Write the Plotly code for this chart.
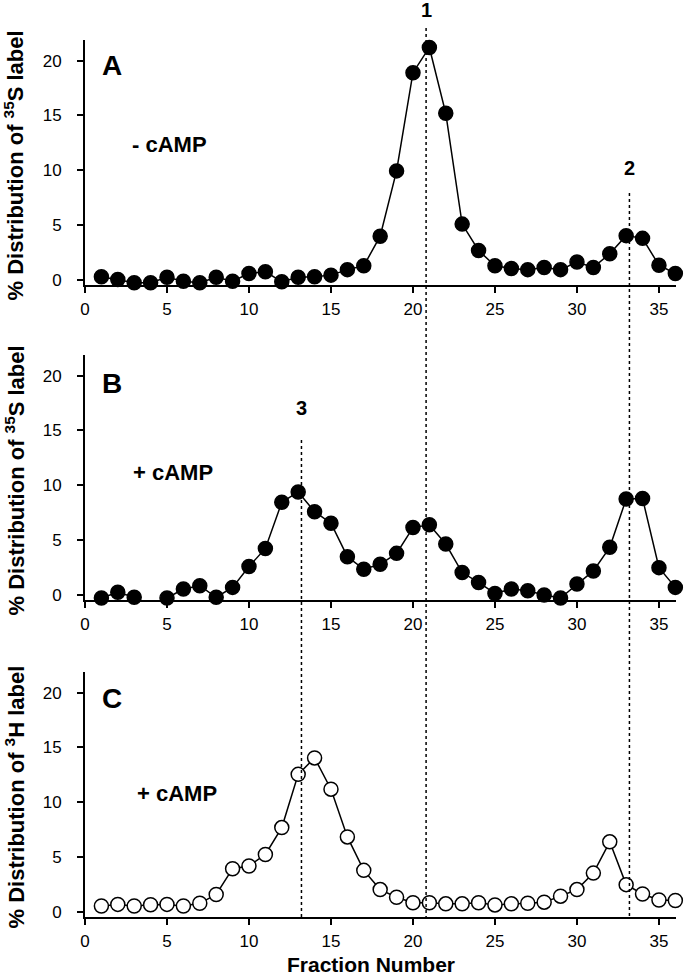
import plotly.graph_objects as go

fractions = list(range(1, 37))

# Panel A: % distribution of 35S label, - cAMP
s35_minus_camp = [0.3, 0.05, -0.25, -0.25, 0.25, -0.1, -0.25, 0.25, -0.1, 0.6,
                  0.75, -0.15, 0.25, 0.3, 0.45, 0.95, 1.3, 4.0, 9.95, 18.9,
                  21.2, 15.2, 5.1, 2.7, 1.3, 1.05, 0.95, 1.15, 0.95, 1.65,
                  1.15, 2.4, 4.05, 3.8, 1.35, 0.6]

# Panel B: % distribution of 35S label, + cAMP (fraction 4 not shown)
s35_plus_camp = [-0.27, 0.25, -0.2, None, -0.27, 0.55, 0.85, -0.2, 0.7, 2.6,
                 4.25, 8.45, 9.4, 7.6, 6.55, 3.5, 2.35, 2.8, 3.8, 6.15,
                 6.4, 4.65, 2.05, 1.15, 0.15, 0.55, 0.4, 0.0, -0.27, 1.0,
                 2.2, 4.35, 8.75, 8.8, 2.5, 0.7]

# Panel C: % distribution of 3H label, + cAMP
h3_plus_camp = [0.55, 0.7, 0.55, 0.67, 0.7, 0.55, 0.8, 1.6, 3.95, 4.2,
                5.25, 7.7, 12.55, 14.05, 11.2, 6.85, 3.8, 2.05, 1.35, 0.85,
                0.85, 0.75, 0.75, 0.85, 0.65, 0.75, 0.8, 0.9, 1.45, 2.05,
                3.55, 6.4, 2.5, 1.65, 1.1, 1.05]

peak_positions = [20.8, 33.2, 13.2]
peak_labels = ["1", "2", "3"]

panel_letters = ["A", "B", "C"]
condition_labels = ["- cAMP", "+ cAMP", "+ cAMP"]
y_titles = ["% Distribution of <sup>35</sup>S label",
            "% Distribution of <sup>35</sup>S label",
            "% Distribution of <sup>3</sup>H label"]
x_ticks = [0, 5, 10, 15, 20, 25, 30, 35]
y_ticks = [0, 5, 10, 15, 20]

W, H = 684, 978
ML, MR = 85, 8


def py(pix):
    return 1 - pix / H


def px(pix):
    return (pix - ML) / (W - ML - MR)


panel_pix = [(40, 285), (355, 600), (672, 917)]

fig = go.Figure()

series = [s35_minus_camp, s35_plus_camp, h3_plus_camp]
fills = ["black", "black", "white"]
for i, (vals, fc) in enumerate(zip(series, fills)):
    suffix = "" if i == 0 else str(i + 1)
    fig.add_trace(go.Scatter(
        x=fractions, y=vals, mode="lines+markers",
        xaxis="x" + suffix, yaxis="y" + suffix,
        line=dict(color="black", width=1.5),
        marker=dict(size=14, color=fc, line=dict(color="black", width=1.5)),
        connectgaps=False, showlegend=False, cliponaxis=False,
    ))

font_family = "Liberation Sans, Arial, sans-serif"
tick_font = dict(family=font_family, size=17, color="black")
layout = dict(
    width=W, height=H,
    margin=dict(l=ML, r=MR, t=0, b=0),
    paper_bgcolor="white", plot_bgcolor="white",
    template="none",
    showlegend=False,
)
for i, (top, bot) in enumerate(panel_pix):
    suffix = "" if i == 0 else str(i + 1)
    layout["xaxis" + suffix] = dict(
        domain=[0, 1], range=[0, 36.04], anchor="y" + suffix,
        tickvals=x_ticks, ticks="outside", ticklen=6, tickwidth=1.5,
        tickcolor="black", showline=True, linecolor="black", linewidth=2,
        showgrid=False, zeroline=False, tickfont=tick_font,
        ticklabelstandoff=2, automargin=False,
    )
    layout["yaxis" + suffix] = dict(
        domain=[py(bot), py(top)], range=[-0.45, 21.88], anchor="x" + suffix,
        tickvals=y_ticks, ticks="outside", ticklen=6, tickwidth=1.5,
        tickcolor="black", showline=True, linecolor="black", linewidth=2,
        showgrid=False, zeroline=False, tickfont=tick_font,
        ticklabelstandoff=12, automargin=False,
    )
fig.update_layout(**layout)

annotations = []
letter_pos = [(112, 65), (112, 383), (112, 698)]
cond_pos = [(169, 145), (173, 472), (177, 793)]
for i in range(3):
    top, bot = panel_pix[i]
    annotations.append(dict(
        text="<b>" + panel_letters[i] + "</b>", xref="paper", yref="paper",
        x=px(letter_pos[i][0]), y=py(letter_pos[i][1]), showarrow=False,
        xanchor="center", yanchor="middle",
        font=dict(family=font_family, size=28, color="black")))
    annotations.append(dict(
        text="<b>" + condition_labels[i] + "</b>", xref="paper", yref="paper",
        x=px(cond_pos[i][0]), y=py(cond_pos[i][1]), showarrow=False,
        xanchor="center", yanchor="middle",
        font=dict(family=font_family, size=22, color="black")))
    annotations.append(dict(
        text="<b>" + y_titles[i] + "</b>", xref="paper", yref="paper",
        x=px(14), y=py((top + bot) / 2 + 3), showarrow=False, textangle=-90,
        xanchor="center", yanchor="middle",
        font=dict(family=font_family, size=22, color="black")))

annotations.append(dict(
    text="<b>Fraction Number</b>", xref="paper", yref="paper",
    x=px(371), y=py(964), showarrow=False, xanchor="center", yanchor="middle",
    font=dict(family=font_family, size=21, color="black")))

label_y = [10, 168, 408]
line_top = [28, 193, 440]
shapes = []
for pos, lab, ly, lt in zip(peak_positions, peak_labels, label_y, line_top):
    annotations.append(dict(
        text="<b>" + lab + "</b>", xref="x3", yref="paper", x=pos, y=py(ly),
        showarrow=False, xanchor="center", yanchor="middle",
        font=dict(family=font_family, size=20, color="black")))
    shapes.append(dict(
        type="line", xref="x3", yref="paper", x0=pos, x1=pos,
        y0=py(lt), y1=py(917), line=dict(color="black", width=1.5, dash="dot")))

fig.update_layout(annotations=annotations, shapes=shapes)
fig.write_html("out.html", config={"displayModeBar": False},
               post_script="document.body.style.margin='0';")
